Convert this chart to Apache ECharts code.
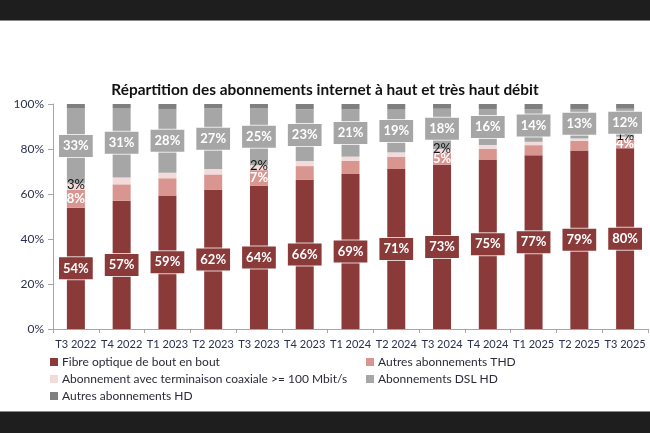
<!DOCTYPE html>
<html><head><meta charset="utf-8">
<script src="https://cdn.jsdelivr.net/npm/echarts@6/dist/echarts.min.js"></script>
<style>html,body{margin:0;padding:0;background:#fff}#c{width:650px;height:433px}</style>
</head><body><div id="c"></div>
<script>
const categories = ['T3 2022','T4 2022','T1 2023','T2 2023','T3 2023','T4 2023','T1 2024','T2 2024','T3 2024','T4 2024','T1 2025','T2 2025','T3 2025'];
const fibre    = [53.9, 57.0, 59.3, 61.8, 63.6, 66.3, 68.9, 71.1, 73.0, 75.3, 77.2, 79.3, 80.3];
const autresTHD= [7.9, 7.3, 7.7, 6.9, 7.0, 6.1, 5.8, 5.5, 5.2, 4.7, 4.5, 4.3, 4.2];
const coax     = [2.9, 3.0, 2.5, 2.4, 2.2, 2.3, 1.9, 1.9, 1.8, 1.8, 1.5, 1.1, 1.0];
const dslHD    = [33.3, 30.9, 28.3, 27.0, 25.2, 23.0, 21.0, 19.0, 17.9, 16.0, 14.4, 13.1, 12.4];
const autresHD = [2.0, 1.8, 2.2, 1.9, 2.0, 2.3, 2.4, 2.5, 2.1, 2.2, 2.4, 2.2, 2.1];
const seriesNames = ['Fibre optique de bout en bout','Autres abonnements THD','Abonnement avec terminaison coaxiale >= 100 Mbit/s','Abonnements DSL HD','Autres abonnements HD'];
const yTicks = {min: 0, max: 100, interval: 20};

const FONT = 'Lato';
const colors = ['#8B3A3A','#D99590','#F2DCDB','#A6A6A6','#7F7F7F'];
const pct = p => Math.round(p.value) + '%';
const everyFourth = p => (p.dataIndex % 4 === 0 ? Math.round(p.value) + '%' : '');

const boxLabel = (bg) => ({
  show: true, position: 'inside', formatter: pct,
  color: '#fff', fontFamily: FONT, fontWeight: 'bold', fontSize: 13,
  backgroundColor: bg, borderColor: 'rgba(255,255,255,0.75)', borderWidth: 1,
  padding: [5, 4, 4, 4]
});

const chart = echarts.init(document.getElementById('c'), null, {renderer: 'canvas'});
const legendPos = [[50, 356], [366, 356], [50, 373], [366, 373], [50, 390]];
chart.setOption({
  animation: false,
  backgroundColor: '#fff',
  color: colors,
  title: {
    text: 'Répartition des abonnements internet à haut et très haut débit',
    left: 'center', top: 78,
    textStyle: {fontFamily: FONT, fontWeight: 'bold', fontSize: 15.4, color: '#111'}
  },
  graphic: [
    {type: 'rect', shape: {x: 0, y: 0, width: 650, height: 20}, style: {fill: '#1e1e1e'}},
    {type: 'rect', shape: {x: 0, y: 20, width: 650, height: 1}, style: {fill: '#8a8a8a'}},
    {type: 'rect', shape: {x: 0, y: 412, width: 650, height: 21}, style: {fill: '#1e1e1e'}},
    {type: 'rect', shape: {x: 0, y: 411, width: 650, height: 1}, style: {fill: '#8a8a8a'}}
  ],
  legend: seriesNames.map((n, i) => ({
    data: [n], left: legendPos[i][0], top: legendPos[i][1], orient: 'horizontal',
    icon: 'rect', itemWidth: 8, itemHeight: 8, itemGap: 4, padding: 0,
    textStyle: {fontFamily: FONT, fontSize: 12, color: '#2b2b3a', padding: [0, 0, 0, -1]}
  })),
  grid: {left: 53, right: 2, top: 104, bottom: 104, containLabel: false},
  xAxis: {
    type: 'category', data: categories, boundaryGap: true,
    axisLine: {lineStyle: {color: '#a6a6a6'}},
    axisTick: {show: true, alignWithLabel: false, length: 4, lineStyle: {color: '#a6a6a6'}},
    axisLabel: {fontFamily: FONT, fontSize: 11, color: '#2b3050', margin: 10, interval: 0}
  },
  yAxis: {
    type: 'value', min: yTicks.min, max: yTicks.max, interval: yTicks.interval,
    splitLine: {show: false},
    axisLine: {show: true, lineStyle: {color: '#a6a6a6'}},
    axisTick: {show: true, length: 5, lineStyle: {color: '#a6a6a6'}},
    axisLabel: {formatter: '{value}%', fontFamily: FONT, fontSize: 12, color: '#2b3050', margin: 9}
  },
  series: [
    {name: seriesNames[0], type: 'bar', stack: 't', barWidth: 18, data: fibre, label: boxLabel(colors[0])},
    {name: seriesNames[1], type: 'bar', stack: 't', data: autresTHD,
     label: {show: true, position: 'inside', formatter: everyFourth, color: '#fff', fontFamily: FONT, fontWeight: 'bold', fontSize: 13}},
    {name: seriesNames[2], type: 'bar', stack: 't', data: coax,
     label: {show: true, position: 'inside', formatter: everyFourth, color: '#111', fontFamily: FONT, fontSize: 13, offset: [0, -2]}},
    {name: seriesNames[3], type: 'bar', stack: 't', data: dslHD, label: boxLabel(colors[3])},
    {name: seriesNames[4], type: 'bar', stack: 't', data: autresHD}
  ]
});
</script></body></html>
